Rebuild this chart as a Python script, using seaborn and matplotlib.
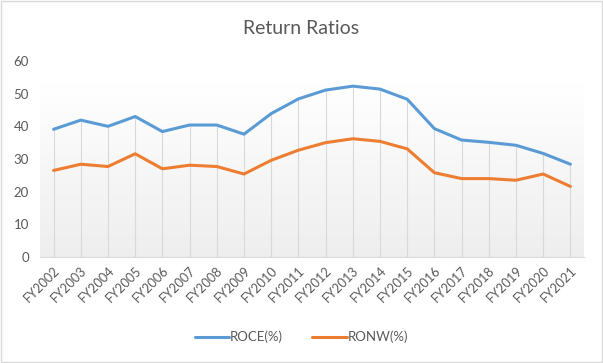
import numpy as np
import pandas as pd
import matplotlib
matplotlib.use("Agg")
import matplotlib.pyplot as plt
import seaborn as sns
from matplotlib.colors import LinearSegmentedColormap

years = ["FY2002", "FY2003", "FY2004", "FY2005", "FY2006", "FY2007", "FY2008", "FY2009", "FY2010", "FY2011",
         "FY2012", "FY2013", "FY2014", "FY2015", "FY2016", "FY2017", "FY2018", "FY2019", "FY2020", "FY2021"]
roce = [39.1, 41.9, 40.0, 43.0, 38.4, 40.4, 40.4, 37.6, 43.9, 48.4,
        51.1, 52.3, 51.4, 48.3, 39.3, 35.8, 35.1, 34.2, 31.7, 28.4]
ronw = [26.5, 28.4, 27.7, 31.6, 27.0, 28.1, 27.7, 25.4, 29.6, 32.7,
        35.0, 36.2, 35.4, 33.1, 25.8, 24.0, 24.0, 23.5, 25.4, 21.6]
series_names = ["ROCE(%)", "RONW(%)"]
colors = ["#5B9BD5", "#ED7D31"]
yticks = [0, 10, 20, 30, 40, 50, 60]

sns.set_theme(style="white")
plt.rcParams["font.family"] = ["Lato", "DejaVu Sans"]

df = pd.DataFrame({
    "x": list(range(len(years))) * 2,
    "value": roce + ronw,
    "series": [series_names[0]] * len(years) + [series_names[1]] * len(years),
})

fig = plt.figure(figsize=(6.03, 3.63), dpi=100)
ax = fig.add_axes([40 / 603, 1 - 257 / 363, 544 / 603, 196 / 363])

# gradient background (white at top, light gray at bottom)
grad = np.linspace(0, 1, 256).reshape(-1, 1)
cmap = LinearSegmentedColormap.from_list("g", ["#ffffff", "#eeeeee"])
ax.imshow(grad, aspect="auto", cmap=cmap, extent=[-0.5, len(years) - 0.5, 0, 53], origin="upper", zorder=0)

# drop lines
ax.vlines(range(len(years)), 0, [max(a, b) for a, b in zip(roce, ronw)], color="#d9d9d9", lw=0.8, zorder=1)

sns.lineplot(data=df, x="x", y="value", hue="series", palette=colors, lw=2.2, ax=ax, sort=False, zorder=3)

ax.set_xlim(-0.5, len(years) - 0.5)
ax.set_ylim(0, 60)
ax.set_yticks(yticks)
ax.set_yticklabels([str(t) for t in yticks], fontsize=9.5, color="#595959")
ax.set_xticks(range(len(years)))
ax.set_xticklabels(years, rotation=45, ha="right", rotation_mode="anchor", fontsize=9.2, color="#595959")
ax.tick_params(axis="x", length=0, pad=5)
ax.tick_params(axis="y", length=0, pad=8)
ax.set_xlabel("")
ax.set_ylabel("")
for s in ["top", "right", "left"]:
    ax.spines[s].set_visible(False)
ax.spines["bottom"].set_color("#d9d9d9")
ax.spines["bottom"].set_linewidth(0.8)

handles, labels = ax.get_legend_handles_labels()
ax.legend(handles, labels, loc="center", bbox_to_anchor=(0.5, 1 - 337 / 363), bbox_transform=fig.transFigure,
          ncol=2, frameon=False, fontsize=9.5, handlelength=2.6, columnspacing=2.2, handletextpad=0.1,
          labelcolor="#595959")

fig.text(0.5, 1 - 28 / 363, "Return Ratios", ha="center", va="center", fontsize=14, color="#595959")

# border
fig.patches.append(plt.Rectangle((0.002, 0.003), 0.996, 0.994, transform=fig.transFigure, fill=False,
                                 edgecolor="#d9d9d9", lw=1))

fig.savefig("out.png", dpi=100)
